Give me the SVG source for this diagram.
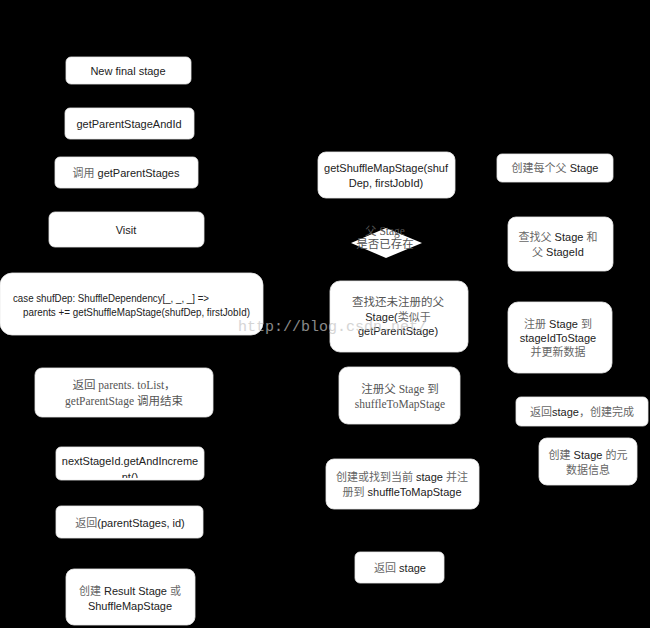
<svg xmlns="http://www.w3.org/2000/svg" width="650" height="628" viewBox="0 0 650 628">
<style>
.bg{fill:#000}
.box{fill:#fff;stroke:#e8e8e8;stroke-width:0.8}
.t{font-family:"Liberation Sans","Noto Sans CJK SC",sans-serif;font-size:11px;fill:#222;text-anchor:middle}
.s{font-family:"Liberation Serif","Noto Sans CJK SC",serif;font-size:11.5px;fill:#555;text-anchor:middle}
.cj{fill:#666}
.wm{font-family:"Liberation Mono",monospace;font-size:15px;fill:#c4c4c4;opacity:0.7}
</style>
<defs>
<clipPath id="clipNext"><rect x="56" y="447" width="148" height="31"/></clipPath>
</defs>
<rect class="bg" x="0" y="0" width="650" height="628"/>
<g id="connectors"></g>
<g id="n1"><rect class="box" x="66" y="57" width="125" height="27" rx="5"/><text class="t" x="128" y="75">New final stage</text></g>
<g id="n2"><rect class="box" x="65" y="108" width="129" height="31" rx="5"/><text class="t" x="129" y="128" font-size="12">getParentStageAndId</text></g>
<g id="n3"><rect class="box" x="55" y="157" width="143" height="31" rx="5"/><text class="t" x="126" y="177"><tspan class="cj">调用</tspan> getParentStages</text></g>
<g id="n4"><rect class="box" x="49" y="212" width="155" height="35" rx="6"/><text class="t" x="126" y="234">Visit</text></g>
<g id="n5"><rect class="box" x="0" y="273" width="263" height="62" rx="12"/>
<text class="t" x="13" y="302" style="text-anchor:start" textLength="196" lengthAdjust="spacingAndGlyphs">case shufDep: ShuffleDependency[_, _, _] =&gt;</text>
<text class="t" x="23" y="316" style="text-anchor:start" textLength="227" lengthAdjust="spacingAndGlyphs">parents += getShuffleMapStage(shufDep, firstJobId)</text></g>
<g id="n6"><rect class="box" x="35" y="368" width="178" height="49" rx="7"/><text class="s" x="124" y="389">返回 parents. toList，</text><text class="s" x="124" y="405">getParentStage 调用结束</text></g>
<g id="n7"><rect class="box" x="56" y="447" width="148" height="33" rx="5"/><g clip-path="url(#clipNext)"><text class="t" x="130" y="465" font-size="11.5">nextStageId.getAndIncreme</text><text class="t" x="130" y="481" font-size="11.5">nt()</text></g></g>
<g id="n8"><rect class="box" x="56" y="506" width="147" height="32" rx="5"/><text class="t" x="130" y="527"><tspan class="cj">返回</tspan>(parentStages, id)</text></g>
<g id="n9"><rect class="box" x="66" y="569" width="129" height="56" rx="8"/><text class="t" x="130" y="595"><tspan class="cj">创建</tspan> Result Stage  <tspan class="cj">或</tspan></text><text class="t" x="130" y="610">ShuffleMapStage</text></g>
<g id="n10"><rect class="box" x="318" y="152" width="137" height="46" rx="8"/><text class="t" x="386" y="172">getShuffleMapStage(shuf</text><text class="t" x="386" y="187">Dep, firstJobId)</text></g>
<g id="n11"><polygon points="351,243 386,228 422,243 386,258" fill="#fff"/><text class="s" x="385" y="235" fill="#777">父 Stage</text><text class="s" x="385" y="248">是否已存在</text></g>
<g id="n12"><rect class="box" x="330" y="281" width="138" height="71" rx="10"/><text class="s" x="398" y="306">查找还未注册的父</text><text class="t" x="398" y="321">Stage(<tspan class="cj">类似于</tspan></text><text class="t" x="398" y="335">getParentStage)</text></g>
<g id="n13"><rect class="box" x="339" y="367" width="121" height="57" rx="9"/><text class="s" x="400" y="393">注册父 Stage 到</text><text class="s" x="400" y="408">shuffleToMapStage</text></g>
<g id="n14"><rect class="box" x="326" y="459" width="153" height="50" rx="8"/><text class="t" x="402" y="481"><tspan class="cj">创建或找到当前</tspan> stage <tspan class="cj">并注</tspan></text><text class="t" x="402" y="496"><tspan class="cj">册到</tspan> shuffleToMapStage</text></g>
<g id="n15"><rect class="box" x="355" y="552" width="89" height="31" rx="5"/><text class="t" x="400" y="572"><tspan class="cj">返回</tspan> stage</text></g>
<g id="n16"><rect class="box" x="497" y="154" width="116" height="28" rx="5"/><text class="t" x="555" y="172"><tspan class="cj">创建每个父</tspan> Stage</text></g>
<g id="n17"><rect class="box" x="508" y="217" width="105" height="54" rx="8"/><text class="t" x="558" y="241"><tspan class="cj">查找父</tspan> Stage <tspan class="cj">和</tspan></text><text class="t" x="558" y="256"><tspan class="cj">父</tspan> StageId</text></g>
<g id="n18"><rect class="box" x="508" y="302" width="104" height="71" rx="10"/><text class="t" x="558" y="328"><tspan class="cj">注册</tspan> Stage <tspan class="cj">到</tspan></text><text class="t" x="558" y="342">stageIdToStage</text><text class="t cj" x="558" y="356">并更新数据</text></g>
<g id="n19"><rect class="box" x="516" y="397" width="132" height="29" rx="5"/><text class="t" x="582" y="416"><tspan class="cj">返回</tspan>stage<tspan class="cj">，创建完成</tspan></text></g>
<g id="n20"><rect class="box" x="539" y="438" width="98" height="47" rx="8"/><text class="t" x="588" y="459"><tspan class="cj">创建</tspan> Stage <tspan class="cj">的元</tspan></text><text class="t cj" x="588" y="474">数据信息</text></g>
<text class="wm" x="238" y="331">http://blog.csdn.net/</text>
</svg>
